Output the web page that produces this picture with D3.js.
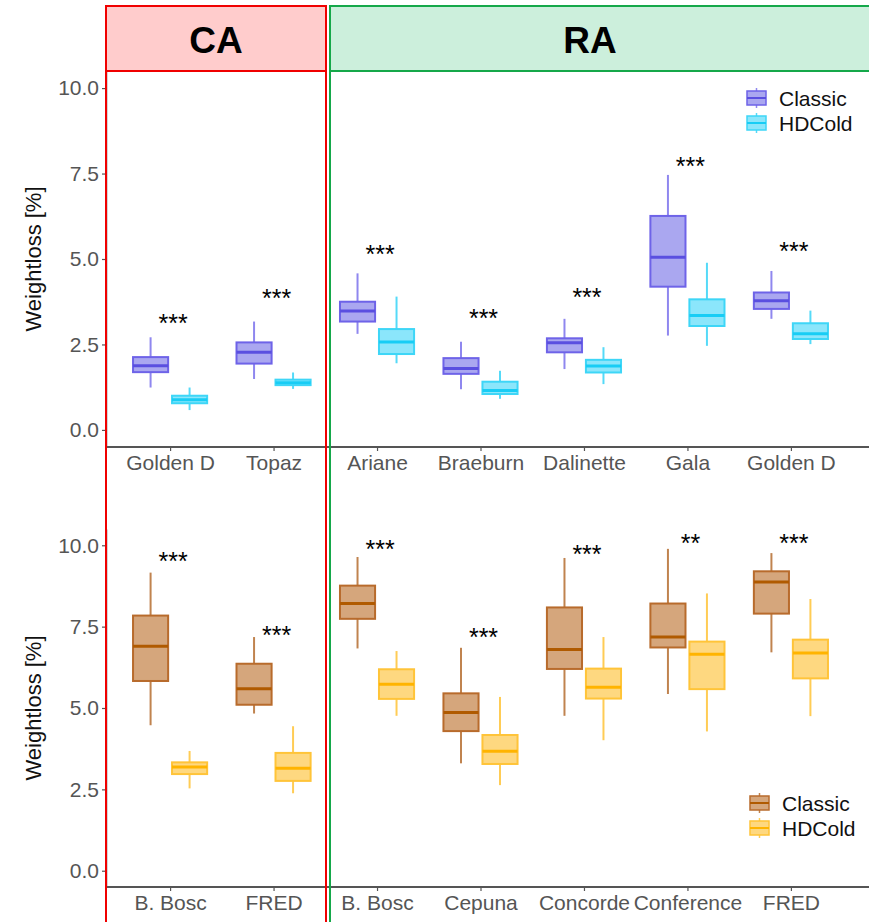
<!DOCTYPE html>
<html>
<head>
<meta charset="utf-8">
<script src="https://cdn.jsdelivr.net/npm/d3@7"></script>
<style>
  body { margin: 0; background: #fff; }
  svg { display: block; font-family: "Liberation Sans", Arial, sans-serif; }
</style>
</head>
<body>
<div class="canvas"></div>
<script>
// cultivars per row, first two are CA storage, rest RA
const topCultivars = ["Golden D", "Topaz", "Ariane", "Braeburn", "Dalinette", "Gala", "Golden D"];
const bottomCultivars = ["B. Bosc", "FRED", "B. Bosc", "Cepuna", "Concorde", "Conference", "FRED"];
const storageGroups = ["CA", "RA"];
const series = ["Classic", "HDCold"];
const yTicks = [0, 2.5, 5, 7.5, 10];

// box stats: [min, q1, median, q3, max]
const topClassic = [
  [1.24, 1.69, 1.88, 2.13, 2.71], [1.49, 1.94, 2.27, 2.56, 3.17],
  [2.81, 3.17, 3.48, 3.75, 4.58], [1.19, 1.64, 1.80, 2.10, 2.58],
  [1.78, 2.27, 2.55, 2.68, 3.25], [2.76, 4.19, 5.05, 6.26, 7.46],
  [3.25, 3.54, 3.78, 4.02, 4.65]
];
const topHDCold = [
  [0.58, 0.78, 0.88, 1.00, 1.24], [1.20, 1.31, 1.38, 1.47, 1.68],
  [1.95, 2.22, 2.57, 2.95, 3.90], [0.91, 1.05, 1.15, 1.41, 1.73],
  [1.34, 1.68, 1.87, 2.05, 2.42], [2.46, 3.04, 3.35, 3.82, 4.89],
  [2.51, 2.66, 2.81, 3.12, 3.49]
];
const topSig = ["***", "***", "***", "***", "***", "***", "***"];
const topSigY = [3.24, 3.98, 5.26, 3.39, 4.0, 7.85, 5.34];

const bottomClassic = [
  [4.47, 5.83, 6.90, 7.84, 9.16], [4.83, 5.10, 5.59, 6.36, 7.18],
  [6.83, 7.74, 8.21, 8.76, 9.64], [3.30, 4.29, 4.86, 5.45, 6.85],
  [4.76, 6.20, 6.80, 8.09, 9.61], [5.43, 6.86, 7.18, 8.21, 9.89],
  [6.71, 7.90, 8.87, 9.20, 9.76]
];
const bottomHDCold = [
  [2.53, 2.97, 3.19, 3.33, 3.68], [2.38, 2.76, 3.15, 3.62, 4.44],
  [4.76, 5.28, 5.73, 6.19, 6.75], [2.63, 3.28, 3.67, 4.17, 5.34],
  [4.01, 5.29, 5.64, 6.21, 7.18], [4.28, 5.58, 6.65, 7.04, 8.52],
  [4.75, 5.91, 6.69, 7.10, 8.35]
];
const bottomSig = ["***", "***", "***", "***", "***", "**", "***"];
const bottomSigY = [9.64, 7.37, 10.0, 7.29, 9.87, 10.2, 10.2];

const width = 869, height = 922;

const svg = d3.select('.canvas').append('svg')
    .attr('width', width)
    .attr('height', height);

// shared x positions for both rows
const x = d3.scalePoint()
    .domain(d3.range(7))
    .range([108, 853])
    .padding(0.6);

const dodge = d3.scaleBand()
    .domain(series)
    .range([-39, 39])
    .paddingInner(0.1)
    .paddingOuter(0.05);

const panels = [
  {labels: topCultivars, data: [topClassic, topHDCold], sig: topSig, sigY: topSigY,
   top: 71, bottom: 447, legendX: 746, legendY: 98,
   colors: [
     {fill: '#aaa7f0', stroke: '#6e63e8', whisker: '#8f87ef', median: '#5a4fe0'},
     {fill: '#8be6fb', stroke: '#3ed6f7', whisker: '#55daf8', median: '#18cdf5'}
   ]},
  {labels: bottomCultivars, data: [bottomClassic, bottomHDCold], sig: bottomSig, sigY: bottomSigY,
   top: 529, bottom: 887, legendX: 749, legendY: 803,
   colors: [
     {fill: '#d5a67c', stroke: '#b86b2c', whisker: '#c0834f', median: '#b05a00'},
     {fill: '#fed880', stroke: '#ffc439', whisker: '#ffcc55', median: '#ffb400'}
   ]}
];

panels.forEach(p => {
  const y = d3.scaleLinear().domain([-0.5, 10.5]).range([p.bottom, p.top]);
  const g = svg.append('g');

  // y axis
  const yAxis = g.append('g')
      .attr('transform', 'translate(106,0)')
      .call(d3.axisLeft(y).tickValues(yTicks).tickFormat(d3.format('.1f'))
        .tickSize(4).tickSizeOuter(0).tickPadding(3));
  yAxis.select('.domain').attr('stroke', '#555').attr('stroke-width', 1.5);
  yAxis.selectAll('.tick line').attr('stroke', '#555').attr('stroke-width', 1.2);
  yAxis.selectAll('.tick text').attr('fill', '#555').attr('font-size', 21).attr('font-family', '"Liberation Sans", Arial, sans-serif');

  // x axis
  const xAxis = g.append('g')
      .attr('transform', `translate(0,${p.bottom})`)
      .call(d3.axisBottom(x).tickFormat(i => p.labels[i]).tickSize(4).tickPadding(4));
  xAxis.select('.domain').remove();
  xAxis.selectAll('.tick line').attr('stroke', '#555').attr('stroke-width', 1.2);
  xAxis.selectAll('.tick text').attr('fill', '#555').attr('font-size', 21).attr('font-family', '"Liberation Sans", Arial, sans-serif');
  g.append('line')
      .attr('x1', 106).attr('x2', width)
      .attr('y1', p.bottom).attr('y2', p.bottom)
      .attr('stroke', '#555').attr('stroke-width', 2);

  g.append('text')
      .attr('transform', `translate(41,${(p.top + p.bottom) / 2}) rotate(-90)`)
      .attr('text-anchor', 'middle')
      .attr('font-size', 22)
      .attr('fill', '#111')
      .text('Weightloss [%]');

  // boxes
  series.forEach((s, si) => {
    const c = p.colors[si];
    const bw = dodge.bandwidth();
    const boxes = g.append('g').selectAll('g')
        .data(p.data[si])
        .join('g')
        .attr('transform', (d, i) => `translate(${x(i) + dodge(s)},0)`);

    boxes.append('line')
        .attr('x1', bw / 2).attr('x2', bw / 2)
        .attr('y1', d => y(d[0])).attr('y2', d => y(d[4]))
        .attr('stroke', c.whisker).attr('stroke-width', 2);
    boxes.append('rect')
        .attr('x', 0).attr('width', bw)
        .attr('y', d => y(d[3]))
        .attr('height', d => y(d[1]) - y(d[3]))
        .attr('fill', c.fill)
        .attr('stroke', c.stroke).attr('stroke-width', 2);
    boxes.append('line')
        .attr('x1', 0).attr('x2', bw)
        .attr('y1', d => y(d[2])).attr('y2', d => y(d[2]))
        .attr('stroke', c.median).attr('stroke-width', 3);
  });

  // significance labels
  g.append('g').selectAll('text')
      .data(p.sig)
      .join('text')
      .attr('x', (d, i) => x(i) + 3)
      .attr('y', (d, i) => y(p.sigY[i]) + 13)
      .attr('text-anchor', 'middle')
      .attr('font-size', 25)
      .attr('fill', '#000')
      .text(d => d);

  // legend
  const legend = g.append('g')
      .attr('transform', `translate(${p.legendX},${p.legendY})`);
  series.forEach((s, si) => {
    const c = p.colors[si];
    const item = legend.append('g').attr('transform', `translate(0,${si * 25})`);
    item.append('line')
        .attr('x1', 10.5).attr('x2', 10.5).attr('y1', -10).attr('y2', 10)
        .attr('stroke', c.whisker).attr('stroke-width', 1.5);
    item.append('rect')
        .attr('x', 1).attr('y', -7).attr('width', 19).attr('height', 14)
        .attr('fill', c.fill).attr('stroke', c.stroke).attr('stroke-width', 1.5);
    item.append('line')
        .attr('x1', 1).attr('x2', 20).attr('y1', 0).attr('y2', 0)
        .attr('stroke', c.median).attr('stroke-width', 2);
    item.append('text')
        .attr('x', 33).attr('y', 7.5)
        .attr('font-size', 21)
        .attr('fill', '#111')
        .text(s);
  });
});

// storage strips and frames
const strips = [
  {label: storageGroups[0], x0: 106, x1: 326, tx: 216, fill: '#ffcccc', stroke: '#f00000'},
  {label: storageGroups[1], x0: 330, x1: 900, tx: 590, fill: '#ccefdc', stroke: '#15a84a'}
];
strips.forEach(s => {
  svg.append('rect')
      .attr('x', s.x0).attr('y', 6)
      .attr('width', s.x1 - s.x0).attr('height', 65)
      .attr('fill', s.fill);
  svg.append('rect')
      .attr('x', s.x0).attr('y', 6)
      .attr('width', s.x1 - s.x0).attr('height', 1000)
      .attr('fill', 'none')
      .attr('stroke', s.stroke).attr('stroke-width', 2);
  svg.append('line')
      .attr('x1', s.x0).attr('x2', s.x1)
      .attr('y1', 71).attr('y2', 71)
      .attr('stroke', s.stroke).attr('stroke-width', 2);
  svg.append('text')
      .attr('x', s.tx).attr('y', 53)
      .attr('text-anchor', 'middle')
      .attr('font-size', 37)
      .attr('font-weight', 'bold')
      .attr('fill', '#000')
      .text(s.label);
});
</script>
</body>
</html>
